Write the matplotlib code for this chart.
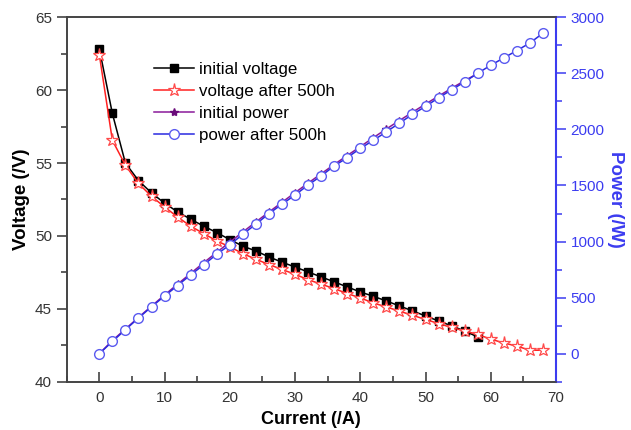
import matplotlib
matplotlib.use("Agg")
import matplotlib.pyplot as plt
from matplotlib.ticker import MultipleLocator

plt.rcParams['font.family'] = ['Liberation Sans', 'DejaVu Sans']

current_init = [0, 2, 4, 6, 8, 10, 12, 14, 16, 18, 20, 22, 24, 26, 28, 30,
                32, 34, 36, 38, 40, 42, 44, 46, 48, 50, 52, 54, 56, 58]
voltage_init = [62.85, 58.4, 55.0, 53.8, 52.95, 52.25, 51.65, 51.15, 50.67, 50.23,
                49.75, 49.3, 48.97, 48.56, 48.2, 47.87, 47.53, 47.19, 46.85, 46.5,
                46.16, 45.86, 45.54, 45.2, 44.86, 44.51, 44.17, 43.83, 43.48, 43.07]
power_init = [0, 117, 220, 323, 424, 523, 620, 716, 811, 904, 995, 1085, 1175, 1263,
              1350, 1436, 1521, 1604, 1687, 1767, 1846, 1926, 2004, 2079, 2153, 2226,
              2297, 2367, 2435, 2498]

current_500 = [0, 2, 4, 6, 8, 10, 12, 14, 16, 18, 20, 22, 24, 26, 28, 30, 32, 34,
               36, 38, 40, 42, 44, 46, 48, 50, 52, 54, 56, 58, 60, 62, 64, 66, 68]
voltage_500 = [62.44, 56.56, 54.85, 53.6, 52.72, 51.99, 51.3, 50.67, 50.16, 49.66,
               49.25, 48.79, 48.4, 48.04, 47.7, 47.37, 47.0, 46.69, 46.39, 46.05,
               45.75, 45.4, 45.13, 44.84, 44.56, 44.27, 43.99, 43.72, 43.48, 43.24,
               42.92, 42.66, 42.44, 42.16, 42.16]
power_500 = [0, 109, 214, 318, 418, 514, 608, 703, 792, 887, 970, 1066, 1155, 1249,
             1333, 1415, 1504, 1585, 1674, 1748, 1831, 1902, 1979, 2056, 2134, 2205,
             2282, 2353, 2424, 2501, 2572, 2638, 2703, 2771, 2858]

blue = '#3c3cf0'
tick_gray = '#333333'

fig = plt.figure(figsize=(6.31, 4.30), dpi=100)
ax = fig.add_axes([0.1057, 0.1123, 0.7754, 0.8475])
ax2 = ax.twinx()

l1, = ax.plot(current_init, voltage_init, color='black', lw=1.1, marker='s',
              ms=6, mfc='black', mec='black', label='initial voltage', zorder=3)
l2, = ax.plot(current_500, voltage_500, color='#ff2020', lw=1.1, marker='*',
              ms=9.5, mfc='white', mec='#ff4a4a', mew=0.9, label='voltage after 500h', zorder=4)
l3, = ax2.plot(current_init, power_init, color='#8a1a9a', lw=1.1, marker='*',
               ms=6, mfc='#6a0a7a', mec='#6a0a7a', label='initial power', zorder=3)
l4, = ax2.plot(current_500, power_500, color='#2a2ae0', lw=1.1, marker='o',
               ms=7, mfc='white', mec='#5a5af0', mew=1.0, label='power after 500h', zorder=4)

ax.set_xlim(-5, 70)
ax.set_ylim(40, 65)
ax2.set_ylim(-250, 3000)

ax.xaxis.set_major_locator(MultipleLocator(10))
ax.xaxis.set_minor_locator(MultipleLocator(5))
ax.yaxis.set_major_locator(MultipleLocator(5))
ax.yaxis.set_minor_locator(MultipleLocator(2.5))
ax2.yaxis.set_major_locator(MultipleLocator(500))
ax2.yaxis.set_minor_locator(MultipleLocator(250))

ax.tick_params(axis='x', which='both', direction='in', colors=tick_gray, labelsize=11, pad=7)
ax.tick_params(axis='x', which='major', length=7, width=1.1)
ax.tick_params(axis='x', which='minor', length=4, width=1.1)
ax.tick_params(axis='y', which='both', direction='out', colors=tick_gray, labelsize=11)
ax.tick_params(axis='y', which='major', length=7, width=1.1)
ax.tick_params(axis='y', which='minor', length=4, width=1.1)
ax2.tick_params(axis='y', which='both', direction='out', colors=blue, labelsize=11)
ax2.tick_params(axis='y', which='major', length=7, width=1.1)
ax2.tick_params(axis='y', which='minor', length=4, width=1.1)

for s in ['left', 'bottom', 'top']:
    ax.spines[s].set_color('#444444')
    ax.spines[s].set_linewidth(1.2)
    ax2.spines[s].set_color('#444444')
    ax2.spines[s].set_linewidth(1.2)
ax2.spines['right'].set_color(blue)
ax2.spines['right'].set_linewidth(1.5)
ax.spines['right'].set_visible(False)

ax.set_xlabel('Current (/A)', fontsize=13, fontweight='bold', labelpad=4)
ax.set_ylabel('Voltage (/V)', fontsize=13.5, fontweight='bold', labelpad=4)
ax2.set_ylabel('Power (/W)', fontsize=13.5, fontweight='bold', color=blue,
               rotation=270, labelpad=14)

leg = ax2.legend(handles=[l1, l2, l3, l4], loc='upper left',
                 bbox_to_anchor=(0.164, 0.897), frameon=False, fontsize=12.2,
                 handlelength=2.4, handletextpad=0.3, labelspacing=0.42,
                 borderaxespad=0)

fig.savefig('out.png', dpi=100)
